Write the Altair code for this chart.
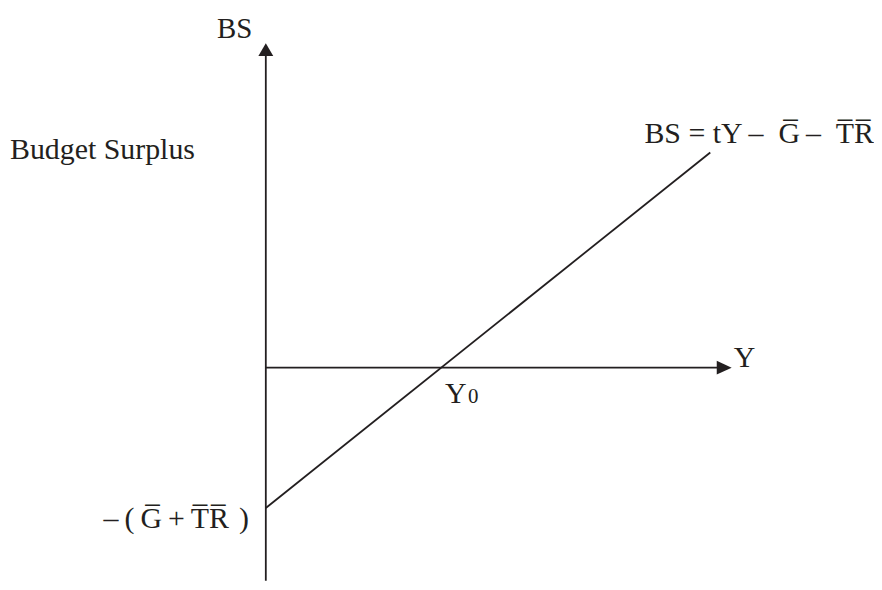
import altair as alt
import pandas as pd

# Model values
t_rate = [0.8]
g_plus_tr = [3.0]
y_end = [9.5]

line_y = [0.0, y_end[0]]
line_bs = [-g_plus_tr[0] + t_rate[0] * v for v in line_y]

FONT = "Liberation Serif"
INK = "#231f20"

X_DOM = [-5.5106, 13.0]
Y_DOM = [-4.5532, 7.6596]

xs = alt.Scale(domain=X_DOM, nice=False, zero=False)
ys = alt.Scale(domain=Y_DOM, nice=False, zero=False)

def xy():
    return dict(x=alt.X("Y:Q", scale=xs, axis=None), y=alt.Y("BS:Q", scale=ys, axis=None))

# budget surplus line
bs_df = pd.DataFrame({"Y": line_y, "BS": line_bs})
bs_line = alt.Chart(bs_df).mark_line(color=INK, strokeWidth=1.8).encode(**xy())

# axes
vaxis_df = pd.DataFrame({"Y": [0.0, 0.0], "BS": [Y_DOM[0], 6.75]})
vaxis = alt.Chart(vaxis_df).mark_line(color=INK, strokeWidth=1.8).encode(**xy())
haxis_df = pd.DataFrame({"Y": [0.0, 9.75], "BS": [0.0, 0.0]})
haxis = alt.Chart(haxis_df).mark_line(color=INK, strokeWidth=1.8).encode(**xy())

up_df = pd.DataFrame({"Y": [0.0], "BS": [6.798]})
up_arrow = alt.Chart(up_df).mark_point(
    shape="M0,-1L1.15,1L-1.15,1Z", size=169, filled=True, color=INK, opacity=1
).encode(**xy())

right_df = pd.DataFrame({"Y": [9.798], "BS": [0.0]})
right_arrow = alt.Chart(right_df).mark_point(
    shape="M1,0L-1,0.93L-1,-0.93Z", size=225, filled=True, color=INK, opacity=1
).encode(**xy())

def label(text, x, y, size=30, align="left"):
    df = pd.DataFrame({"Y": [x], "BS": [y], "txt": [text]})
    return alt.Chart(df).mark_text(
        font=FONT, fontSize=size, color=INK, align=align, baseline="alphabetic"
    ).encode(text="txt:N", **xy())

OL = "\u0305"
eq_text = "BS = tY\u2009\u2013\u2002G" + OL + "\u2009\u2013\u2002T" + OL + "R" + OL
neg_text = "\u2013\u2009(\u2009G" + OL + "\u2009+\u2009T" + OL + "R" + OL + "\u2004)"

labels = [
    label("BS", -1.0426, 7.0426, 29),
    label("Budget Surplus", -5.468, 4.468, 30),
    label(eq_text, 13.0, 4.809, 30, "right"),
    label("Y", 10.0, 0.021, 30),
    label("Y", 3.83, -0.745, 30),
    label("0", 4.32, -0.745, 21),
    label(neg_text, -0.362, -3.426, 30, "right"),
]

chart = alt.layer(bs_line, vaxis, haxis, up_arrow, right_arrow, *labels).properties(
    width=870, height=574, autosize=alt.AutoSizeParams(type="none"), padding=0
).configure_view(stroke=None)

chart.save("out.html", embed_options={"renderer": "svg", "actions": False})
